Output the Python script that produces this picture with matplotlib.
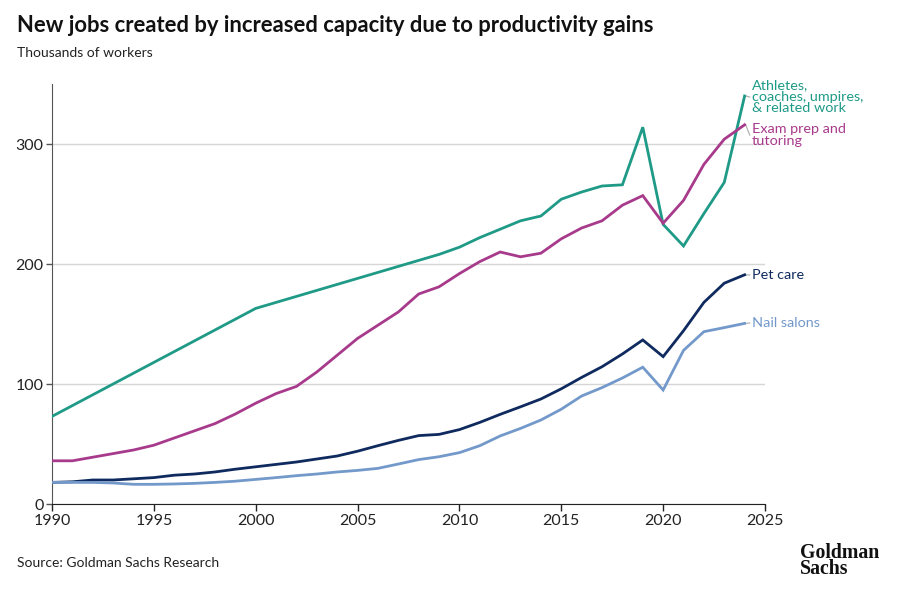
import numpy as np
import matplotlib.pyplot as plt

years = list(range(1990, 2025))

athletes = [73, 82, 91, 100, 109, 118, 127, 136, 145, 154,
            163, 168, 173, 178, 183, 188, 193, 198, 203, 208,
            214, 222, 229, 236, 240, 254, 260, 265, 266, 314,
            233, 215, 242, 268, 340]
exam_prep = [36, 36, 39, 42, 45, 49, 55, 61, 67, 75,
             84, 92, 98, 110, 124, 138, 149, 160, 175, 181,
             192, 202, 210, 206, 209, 221, 230, 236, 249, 257,
             234, 253, 283, 304, 316]
pet_care = [18, 18.5, 20, 20, 21, 22, 24, 25, 26.7, 29,
            31, 33, 35, 37.5, 40, 44, 48.6, 53, 57, 58,
            62, 68, 74.7, 81, 87.5, 96, 105.5, 114.4, 125, 136.7,
            122.8, 144.4, 168, 184, 191]
nail_salons = [18, 18, 18, 17.5, 16.4, 16.4, 16.7, 17.2, 18, 19,
               20.5, 22, 23.6, 25, 26.7, 28, 29.7, 33.3, 37, 39.4,
               42.8, 48.6, 56.7, 63, 70, 79, 90, 97, 105, 114,
               95, 128, 143.6, 147, 150.5]

# values, colour, end label, label centre (pixels from top)
series = [
    (athletes, "#1f9a87", "Athletes,\ncoaches, umpires,\n& related work", 97),
    (exam_prep, "#a83a8c", "Exam prep and\ntutoring", 135),
    (pet_care, "#0f2a5e", "Pet care", 275),
    (nail_salons, "#7399cb", "Nail salons", 323),
]

plt.rcParams['font.family'] = ['Lato', 'DejaVu Sans']

fig = plt.figure(figsize=(8.97, 5.98), dpi=100)
ax = fig.add_axes([52/897, 1 - 504/598, (765-52)/897, (504-84)/598])

for vals, color, label, label_y in series:
    ax.plot(years, vals, color=color, lw=2.0, solid_joinstyle='miter', zorder=3)
    ax.text(752/897, 1 - label_y/598, label, transform=fig.transFigure,
            color=color, fontsize=10.4, va='center', ha='left', linespacing=0.95)
    yv = (504 - label_y) / 1.2
    ax.plot([years[-1] + 0.05, years[-1] + 0.25], [vals[-1], yv],
            color='#aaaaaa', lw=0.8, clip_on=False)

ax.set_xlim(1990, 2025)
ax.set_ylim(0, 350)
ax.set_xticks(range(1990, 2026, 5))
ax.set_yticks([0, 100, 200, 300])
ax.yaxis.grid(True, color='#d6d6d6', lw=1.0)
ax.set_axisbelow(True)
for s in ['top', 'right']:
    ax.spines[s].set_visible(False)
ax.spines['left'].set_color('#555555')
ax.spines['bottom'].set_color('#222222')
ax.tick_params(axis='both', labelsize=11.5, colors='#222222', length=5, width=1, pad=2)
ax.tick_params(axis='y', length=4, colors='#555555', labelcolor='#222222')

fig.text(17/897, 1 - 26/598, "New jobs created by increased capacity due to productivity gains",
         fontsize=15.8, fontweight='bold', va='center', ha='left', color='#111111')
fig.text(17/897, 1 - 53/598, "Thousands of workers", fontsize=10, va='center', ha='left', color='#222222')
fig.text(17/897, 1 - 563/598, "Source: Goldman Sachs Research", fontsize=10, va='center', ha='left', color='#222222')
fig.text(800/897, 1 - 561/598, "Goldman\nSachs", fontsize=14.3, fontweight='bold', va='center', ha='left',
         family='Liberation Serif', linespacing=0.8, color='#111111')

fig.savefig('out.png', dpi=100, facecolor='white')
